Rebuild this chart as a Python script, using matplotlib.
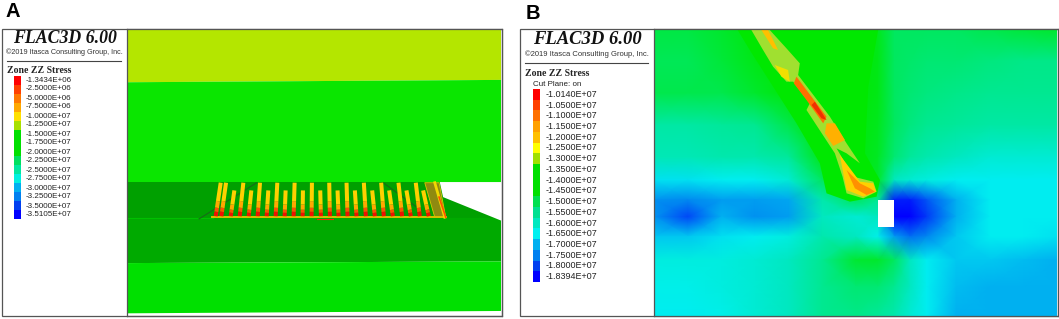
import numpy as np
import matplotlib
matplotlib.use("Agg")
import matplotlib.pyplot as plt
from matplotlib.colors import LinearSegmentedColormap
from matplotlib.patches import Polygon, Rectangle

# legend labels
labels_a = ["-1.3434E+06", "-2.5000E+06", "-5.0000E+06", "-7.5000E+06", "-1.0000E+07", "-1.2500E+07",
            "-1.5000E+07", "-1.7500E+07", "-2.0000E+07", "-2.2500E+07", "-2.5000E+07", "-2.7500E+07",
            "-3.0000E+07", "-3.2500E+07", "-3.5000E+07", "-3.5105E+07"]
colors_a = ["#ff0000", "#ff4000", "#ff7800", "#ffa800", "#ffe000", "#a8e000", "#00e000", "#00e000",
            "#00e000", "#00e060", "#00e8a0", "#00f0e0", "#00b0f0", "#0080f0", "#0040f0", "#0000ff"]
labels_b = ["-1.0140E+07", "-1.0500E+07", "-1.1000E+07", "-1.1500E+07", "-1.2000E+07", "-1.2500E+07",
            "-1.3000E+07", "-1.3500E+07", "-1.4000E+07", "-1.4500E+07", "-1.5000E+07", "-1.5500E+07",
            "-1.6000E+07", "-1.6500E+07", "-1.7000E+07", "-1.7500E+07", "-1.8000E+07", "-1.8394E+07"]
colors_b = ["#ff0000", "#ff4000", "#ff7000", "#ffa000", "#ffc000", "#ffff00", "#a0e000", "#00e000",
            "#00e000", "#00e000", "#00e050", "#00e090", "#00e8c0", "#00f0f0", "#00b0f0", "#0080f0",
            "#0040f0", "#0000ff"]

# panel A, picture coordinates: band edges at left and right side
band_left = [28, 187, 485, 592, 727, 877]
band_right = [28, 180, 485, 592, 722, 870]
band_colors_a = ["#b4e600", "#0ae600", "#00a000", "#00aa00", "#00e000"]
long_top = [302, 318, 370, 420, 472, 524, 576, 628, 680, 732, 784, 836, 888]
long_base = [287, 304, 359, 413, 467, 521, 575, 630, 683, 738, 792, 847, 900]
short_top = [343, 394, 445, 497, 549, 601, 653, 705, 757, 808, 860, 910]
short_base = [332, 386, 440, 494, 548, 603, 656, 710, 765, 819, 873, 927]
gap_a = [(960, 485), (1144, 485), (1144, 600), (970, 530)]
bunch_a = [(915, 487), (958, 487), (978, 590), (945, 590)]

# panel B, stress field (x 1e7 Pa)
field_x = [15, 115, 216, 316, 417, 517, 618, 684, 733, 780, 830, 919, 1020, 1120, 1220]
field_y = [27, 123, 219, 315, 411, 480, 540, 590, 650, 720, 800, 888]
field_b = np.array([
    [-1.47, -1.47, -1.44, -1.36, -1.32, -1.32, -1.32, -1.40, -1.50, -1.50, -1.50, -1.50, -1.48, -1.46, -1.44],
    [-1.49, -1.49, -1.46, -1.38, -1.32, -1.32, -1.32, -1.38, -1.50, -1.51, -1.52, -1.52, -1.53, -1.54, -1.54],
    [-1.48, -1.48, -1.48, -1.44, -1.34, -1.32, -1.33, -1.38, -1.50, -1.52, -1.53, -1.54, -1.55, -1.55, -1.55],
    [-1.57, -1.57, -1.56, -1.55, -1.48, -1.33, -1.34, -1.40, -1.50, -1.53, -1.55, -1.56, -1.57, -1.57, -1.57],
    [-1.59, -1.59, -1.58, -1.58, -1.56, -1.38, -1.34, -1.42, -1.52, -1.56, -1.58, -1.60, -1.62, -1.62, -1.62],
    [-1.66, -1.66, -1.65, -1.65, -1.62, -1.50, -1.36, -1.44, -1.60, -1.62, -1.63, -1.65, -1.65, -1.65, -1.65],
    [-1.73, -1.74, -1.72, -1.72, -1.71, -1.58, -1.50, -1.55, -1.82, -1.82, -1.78, -1.70, -1.65, -1.65, -1.65],
    [-1.73, -1.79, -1.70, -1.73, -1.72, -1.60, -1.62, -1.60, -1.84, -1.84, -1.80, -1.70, -1.65, -1.65, -1.65],
    [-1.68, -1.68, -1.66, -1.65, -1.63, -1.58, -1.60, -1.64, -1.72, -1.76, -1.74, -1.68, -1.65, -1.65, -1.66],
    [-1.63, -1.63, -1.63, -1.62, -1.60, -1.55, -1.45, -1.44, -1.50, -1.60, -1.65, -1.68, -1.68, -1.69, -1.70],
    [-1.64, -1.64, -1.63, -1.62, -1.60, -1.55, -1.52, -1.52, -1.55, -1.60, -1.65, -1.69, -1.70, -1.70, -1.70],
    [-1.65, -1.65, -1.64, -1.62, -1.60, -1.55, -1.54, -1.56, -1.58, -1.62, -1.65, -1.70, -1.70, -1.70, -1.70],
])
wedge_b = [(262, 27), (685, 27), (655, 200), (645, 400), (690, 480), (680, 530), (600, 545), (530, 520),
           (510, 430), (440, 310), (370, 200), (300, 90)]
pale_b = [(305, 30), (360, 30), (410, 85), (450, 130), (445, 165), (540, 290), (590, 370), (630, 430),
          (590, 400), (560, 385), (610, 470), (670, 485), (680, 515), (640, 535), (590, 520), (578, 470),
          (555, 400), (470, 270), (480, 250), (430, 185), (410, 185), (370, 140), (340, 90)]
yellow_b = [(335, 30), (355, 30), (385, 90), (370, 85)]
yellow2_b = [(375, 135), (415, 150), (420, 185), (395, 170)]
yellow3_b = [(530, 310), (555, 310), (585, 360), (550, 378), (525, 340)]
yellow4_b = [(570, 405), (630, 485), (670, 490), (678, 515), (640, 530), (590, 510), (582, 470)]
orange_b = [(440, 170), (530, 290), (520, 310), (470, 240), (432, 190)]
red_b = [(495, 245), (530, 300), (515, 295), (485, 255)]
orange2_b = [(590, 450), (630, 490), (660, 505), (675, 515), (650, 525), (615, 505)]
hole_b = [(684, 541), (733, 541), (733, 621), (684, 621)]

stress_cmap = LinearSegmentedColormap.from_list("flac", [
    (0.00, "#0000ff"), (0.108, "#0080f0"), (0.169, "#00b0f0"), (0.23, "#00f0f0"),
    (0.29, "#00e8c0"), (0.35, "#00e890"), (0.411, "#00e860"), (0.47, "#00e830"),
    (0.63, "#00e800"), (0.678, "#a0e000"), (0.775, "#ffe000"), (0.896, "#ff7000"), (1.00, "#ff0000")])

fig = plt.figure(figsize=(10.59, 3.19), dpi=100)
W, H = 1059.0, 319.0


def panel_axes(x0, y0, x1, y1):
    return fig.add_axes([x0 / W, 1 - y1 / H, (x1 - x0) / W, (y1 - y0) / H])


# whole figure layer for frames and legends
bg = fig.add_axes([0, 0, 1, 1])
bg.set_xlim(0, W)
bg.set_ylim(H, 0)
bg.axis("off")


def legend(x0, x1, title_y, copy_y, rule_y, zone_y, bar_x, bar_y0, bar_y1, lab_x, lab_y0, lab_y1, labels, colors):
    xc = (x0 + x1) / 2
    bg.text(xc, title_y, "FLAC3D 6.00", family="Liberation Serif", weight="bold", style="italic",
            size=12.8 if len(labels) == 16 else 13.4, ha="center", va="center", color="#111111")
    bg.text(xc, copy_y, "©2019 Itasca Consulting Group, Inc.", family="Liberation Sans",
            size=5.2 if len(labels) == 16 else 5.5, ha="center", va="center", color="#333333")
    bg.plot([x0 + 5, x1 - 6], [rule_y, rule_y], color="#444444", lw=0.8)
    bg.text(x0 + 5, zone_y, "Zone ZZ Stress", family="Liberation Serif", weight="bold", size=7,
            ha="left", va="center", color="#222222")
    edges = np.linspace(bar_y0, bar_y1, len(colors) + 1)
    for i, c in enumerate(colors):
        bg.add_patch(Rectangle((bar_x, edges[i]), 6.5, edges[i + 1] - edges[i], color=c, lw=0))
    ys = np.linspace(lab_y0, lab_y1, len(labels))
    for y, s in zip(ys, labels):
        bg.text(lab_x, y, s, family="Liberation Sans", size=5.8 if len(labels) == 16 else 6.5,
                ha="left", va="center", color="#222222")


legend(2, 127, 38.5, 52.5, 61, 70.5, 14, 76, 219, 26, 80, 215, labels_a, colors_a)
legend(520, 654, 40, 54, 63, 73.5, 533, 89, 282, 546, 94.3, 276.7, labels_b, colors_b)
bg.text(533, 84, "Cut Plane: on", family="Liberation Sans", size=5.8, ha="left", va="center", color="#222222")

bg.text(6, 11.5, "A", family="Liberation Sans", weight="bold", size=14.5, ha="left", va="center", color="black")
bg.text(526, 13.5, "B", family="Liberation Sans", weight="bold", size=14.5, ha="left", va="center", color="black")

# panel A
ax = panel_axes(127.5, 29, 501, 316)
ax.set_xlim(22, 1144)
ax.set_ylim(885, 28)
for i, c in enumerate(band_colors_a):
    ax.add_patch(Polygon([(22, band_left[i]), (1144, band_right[i]), (1144, band_right[i + 1]),
                          (22, band_left[i + 1])], color=c, lw=0))
ax.add_patch(Polygon(gap_a, color="white", lw=0))
ax.plot([22, 280], [592, 592], color="#00c000", lw=0.8)
ax.plot([237, 410], [595, 487], color="#1a6a1a", lw=0.8)
ax.plot([790, 905], [487, 570], color="#1a6a1a", lw=0.8)
ax.plot([275, 980], [590, 590], color="#d8c000", lw=1.4)
ax.plot([590, 640], [594, 594], color="#ff2000", lw=0.8)
ax.add_patch(Polygon(bunch_a, facecolor="#8f8a10", edgecolor="#d8c800", lw=0.6))
ax.plot([945, 975], [487, 590], color="#f0d800", lw=2)
ax.plot([958, 978], [530, 590], color="#ff5000", lw=1.2)


def rod(top, base, y_top):
    # yellow shaft, orange lower part, red foot
    y_base = 587
    h = y_base - y_top
    parts = [(0.0, 0.55, "#ffd000"), (0.55, 0.75, "#ffa800"), (0.75, 0.87, "#ff5000"), (0.87, 1.0, "#f01000")]
    for a, b, c in parts:
        ax.plot([top + (base - top) * a, top + (base - top) * b], [y_top + h * a, y_top + h * b],
                color=c, lw=2.9, solid_capstyle="butt")


for t, b in zip(long_top, long_base):
    rod(t, b, 487)
for t, b in zip(short_top, short_base):
    rod(t, b, 510)
ax.axis("off")

# panel B
ax = panel_axes(654.5, 29, 1057, 316)
ax.add_patch(Polygon(wedge_b, color="#00e800", lw=0, zorder=2))
ax.pcolormesh(field_x, field_y, field_b, shading="gouraud", cmap=stress_cmap, vmin=-1.8394, vmax=-1.014, zorder=1)
ax.set_xlim(15, 1220)
ax.set_ylim(888, 27)
ax.add_patch(Polygon(pale_b, color="#a0e030", lw=0, zorder=3))
for poly, c in [(yellow_b, "#ffc000"), (yellow2_b, "#f0e000"), (yellow3_b, "#ffb000"), (yellow4_b, "#ffd000"),
                (orange_b, "#ff7000"), (red_b, "#f03000"), (orange2_b, "#ff9000")]:
    ax.add_patch(Polygon(poly, color=c, lw=0, zorder=4))
ax.add_patch(Polygon(hole_b, color="white", lw=0, zorder=5))
ax.axis("off")

# frames
for x0, x1, xm in [(2, 501.5, 127), (520, 1057.5, 654)]:
    bg.add_patch(Rectangle((x0, 29), x1 - x0, 287, fill=False, edgecolor="#555555", lw=0.9, zorder=5))
    fig.add_artist(plt.Line2D([xm / W, xm / W], [1 - 316 / H, 1 - 29 / H], color="#555555", lw=0.9))
    fig.add_artist(plt.Line2D([x1 / W, x1 / W], [1 - 316 / H, 1 - 29 / H], color="#555555", lw=0.9))
    fig.add_artist(plt.Line2D([xm / W, x1 / W], [1 - 29 / H, 1 - 29 / H], color="#555555", lw=0.9))
    fig.add_artist(plt.Line2D([xm / W, x1 / W], [1 - 316 / H, 1 - 316 / H], color="#555555", lw=0.9))

fig.savefig("out.png", dpi=100)
